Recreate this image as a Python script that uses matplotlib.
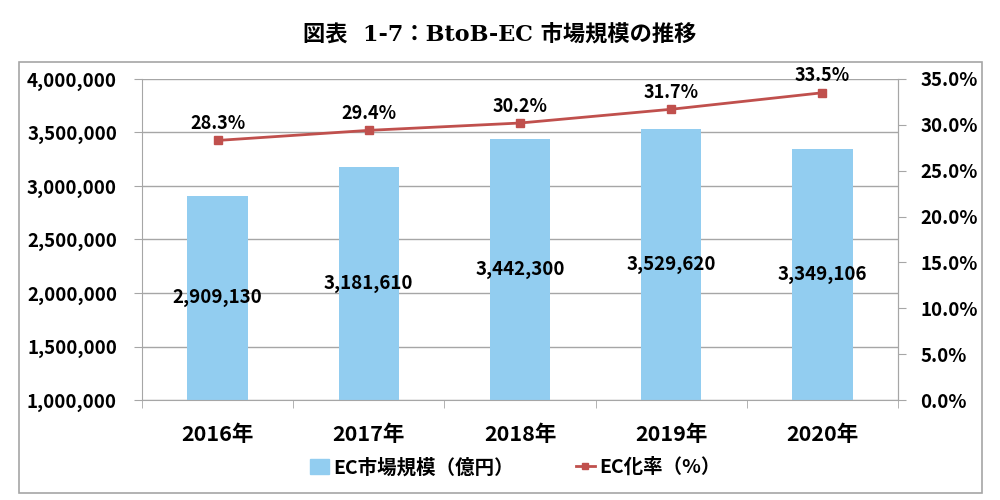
import matplotlib.pyplot as plt
import numpy as np
from matplotlib.patches import Rectangle
from matplotlib.lines import Line2D
from matplotlib.ticker import FuncFormatter

plt.rcParams['font.family'] = ['Noto Sans CJK JP', 'DejaVu Sans']
plt.rcParams['font.weight'] = 'bold'

# data
years = ['2016年', '2017年', '2018年', '2019年', '2020年']
market_size = [2909130, 3181610, 3442300, 3529620, 3349106]  # 億円
ec_rate = [28.3, 29.4, 30.2, 31.7, 33.5]  # %

bar_color = '#92CDF0'
line_color = '#C0504D'
grid_color = '#A6A6A6'

fig = plt.figure(figsize=(10, 5), dpi=100)

# outer frame of the chart block
fig.patches.append(Rectangle((0.019, 0.014), 0.963, 0.862, transform=fig.transFigure,
                             fill=False, edgecolor='#A6A6A6', linewidth=1.2))

fig.text(0.5, 0.928, '図表  1-7：BtoB-EC 市場規模の推移', ha='center', va='center',
         fontsize=16, fontweight='bold', family=['DejaVu Serif', 'Noto Sans CJK JP'])

ax = fig.add_axes([0.142, 0.2, 0.756, 0.642])
x = np.arange(len(years))

ax.bar(x, market_size, width=0.4, color=bar_color, zorder=2)
ax.set_ylim(1000000, 4000000)
ax.set_yticks(np.arange(1000000, 4000001, 500000))
ax.yaxis.set_major_formatter(FuncFormatter(lambda v, p: f'{int(v):,}'))
ax.set_xlim(-0.5, len(years) - 0.5)
ax.set_xticks(x)
ax.set_xticklabels(years)
ax.set_xticks(np.arange(-0.5, len(years)), minor=True)
ax.tick_params(axis='x', which='major', length=0, pad=17, labelsize=15.5)
ax.tick_params(axis='x', which='minor', length=6, color=grid_color, direction='out')
ax.tick_params(axis='y', length=6, color=grid_color, labelsize=13.5, pad=12)
ax.grid(axis='y', color=grid_color, linewidth=1, zorder=0)
ax.set_axisbelow(True)
ax.spines['top'].set_visible(False)
for s in ['left', 'right', 'bottom']:
    ax.spines[s].set_color(grid_color)

for xi, v in zip(x, market_size):
    ax.text(xi, (v + 1000000) / 2, f'{v:,}', ha='center', va='center',
            fontsize=13.5, zorder=4)

ax2 = ax.twinx()
ax2.plot(x, ec_rate, color=line_color, linewidth=2, marker='s', markersize=6,
         zorder=3)
ax2.set_ylim(0, 35)
ax2.set_yticks(np.arange(0, 35.1, 5))
ax2.yaxis.set_major_formatter(FuncFormatter(lambda v, p: f'{v:.1f}%'))
ax2.tick_params(axis='y', length=6, color=grid_color, labelsize=13.5, pad=10)
for s in ['top', 'left', 'bottom']:
    ax2.spines[s].set_visible(False)
ax2.spines['right'].set_color(grid_color)

for xi, v in zip(x, ec_rate):
    ax2.text(xi, v + 0.8, f'{v:.1f}%', ha='center', va='bottom', fontsize=13)

handles = [Rectangle((0, 0), 1, 1, color=bar_color),
           Line2D([0], [0], color=line_color, linewidth=2, marker='s', markersize=5)]
fig.legend(handles, ['EC市場規模（億円）', 'EC化率（%）'], loc='center',
           bbox_to_anchor=(0.515, 0.065), ncol=2, frameon=False,
           prop={'weight': 'bold', 'size': 14}, columnspacing=3.2,
           handlelength=1.0, handleheight=0.8, handletextpad=0.2)

fig.savefig('out.png', dpi=100)
